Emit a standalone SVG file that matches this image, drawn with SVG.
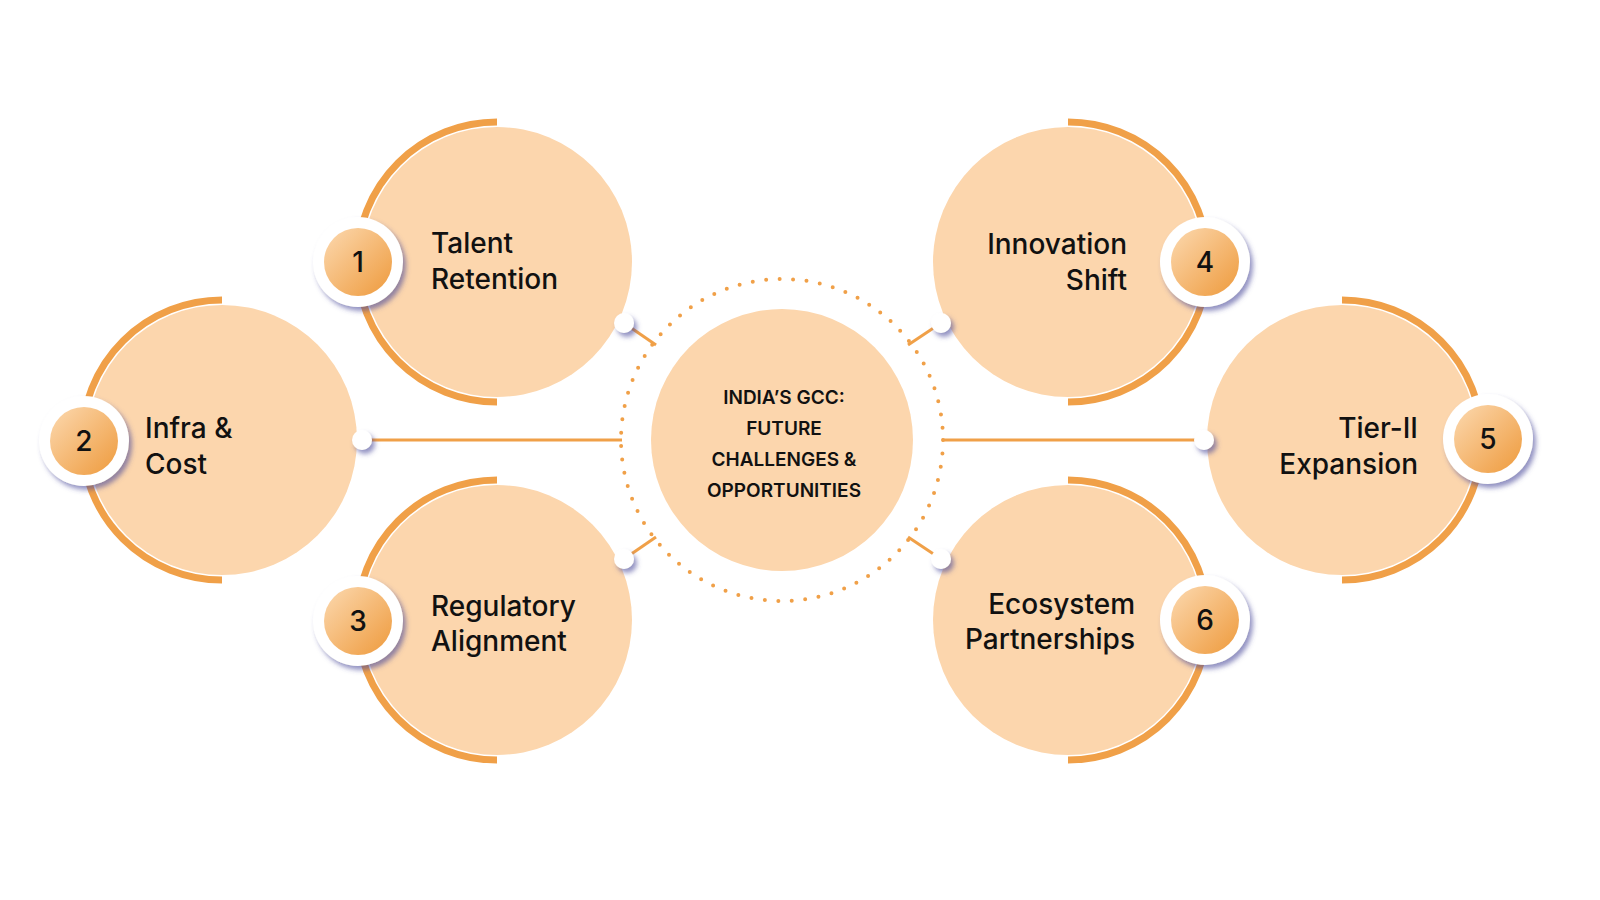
<svg xmlns="http://www.w3.org/2000/svg" width="1600" height="900" viewBox="0 0 1600 900">
<defs>
<linearGradient id="bg" x1="0" y1="0" x2="1" y2="1"><stop offset="0" stop-color="#fcd9b0"/><stop offset="1" stop-color="#ee9a3c"/></linearGradient>
<filter id="sh" x="-50%" y="-50%" width="200%" height="200%"><feDropShadow dx="3" dy="4" stdDeviation="2.5" flood-color="#4a4a9a" flood-opacity="0.6"/></filter>
<style>
.f{fill:#fcd6ad}
.arc{fill:none;stroke:#f0a048;stroke-width:7}
.t{font-family:Inter,"Noto Sans",sans-serif;font-size:28px;font-weight:500;fill:#111}
.n{font-family:Inter,"Noto Sans",sans-serif;font-size:28px;font-weight:500;fill:#111;text-anchor:middle}
.c{font-family:Inter,"Noto Sans",sans-serif;font-size:19px;font-weight:600;fill:#111;text-anchor:middle}
.ring{fill:#fff;filter:url(#sh)}
.in{fill:url(#bg)}
.ln{stroke:#f0a048;stroke-width:3}
</style>
</defs>
<rect width="1600" height="900" fill="#fff"/>
<g id="connectors">
<line class="ln" x1="362" y1="440" x2="622" y2="440"/>
<line class="ln" x1="942" y1="440" x2="1204" y2="440"/>
<line class="ln" x1="624" y1="323" x2="656" y2="345"/>
<line class="ln" x1="624" y1="559" x2="656" y2="537"/>
<line class="ln" x1="941" y1="323" x2="908" y2="345"/>
<line class="ln" x1="941" y1="559" x2="908" y2="537"/>
</g>
<g id="center">
<circle cx="782" cy="440" r="161" fill="none" stroke="#f0a048" stroke-width="4" stroke-linecap="round" stroke-dasharray="0 13.5"/>
<circle class="f" cx="782" cy="440" r="131"/>
<text class="c" x="784" y="404">INDIA’S GCC:</text>
<text class="c" x="784" y="435">FUTURE</text>
<text class="c" x="784" y="466">CHALLENGES &amp;</text>
<text class="c" x="784" y="497">OPPORTUNITIES</text>
</g>
<g id="node1">
<path class="arc" d="M497 122 A140 140 0 0 0 497 402"/>
<circle class="f" cx="497" cy="262" r="135"/>
<circle class="ring" cx="358" cy="262" r="45"/><circle class="in" cx="358" cy="262" r="34"/>
<text class="n" x="358" y="272">1</text>
<text class="t" x="431" y="253">Talent</text><text class="t" x="431" y="289">Retention</text>
</g>
<g id="node2">
<path class="arc" d="M222 300 A140 140 0 0 0 222 580"/>
<circle class="f" cx="222" cy="440" r="135"/>
<circle class="ring" cx="84" cy="441" r="45"/><circle class="in" cx="84" cy="441" r="34"/>
<text class="n" x="84" y="451">2</text>
<text class="t" x="145" y="438">Infra &amp;</text><text class="t" x="145" y="474">Cost</text>
</g>
<g id="node3">
<path class="arc" d="M497 480 A140 140 0 0 0 497 760"/>
<circle class="f" cx="497" cy="620" r="135"/>
<circle class="ring" cx="358" cy="621" r="45"/><circle class="in" cx="358" cy="621" r="34"/>
<text class="n" x="358" y="631">3</text>
<text class="t" x="431" y="616">Regulatory</text><text class="t" x="431" y="651">Alignment</text>
</g>
<g id="node4">
<path class="arc" d="M1068 122 A140 140 0 0 1 1068 402"/>
<circle class="f" cx="1068" cy="262" r="135"/>
<circle class="ring" cx="1205" cy="262" r="45"/><circle class="in" cx="1205" cy="262" r="34"/>
<text class="n" x="1205" y="272">4</text>
<text class="t" x="1127" y="254" text-anchor="end">Innovation</text><text class="t" x="1127" y="290" text-anchor="end">Shift</text>
</g>
<g id="node5">
<path class="arc" d="M1342 300 A140 140 0 0 1 1342 580"/>
<circle class="f" cx="1342" cy="440" r="135"/>
<circle class="ring" cx="1488" cy="439" r="45"/><circle class="in" cx="1488" cy="439" r="34"/>
<text class="n" x="1488" y="449">5</text>
<text class="t" x="1418" y="438" text-anchor="end">Tier-II</text><text class="t" x="1418" y="474" text-anchor="end">Expansion</text>
</g>
<g id="node6">
<path class="arc" d="M1068 480 A140 140 0 0 1 1068 760"/>
<circle class="f" cx="1068" cy="620" r="135"/>
<circle class="ring" cx="1205" cy="620" r="45"/><circle class="in" cx="1205" cy="620" r="34"/>
<text class="n" x="1205" y="630">6</text>
<text class="t" x="1135" y="614" text-anchor="end">Ecosystem</text><text class="t" x="1135" y="649" text-anchor="end">Partnerships</text>
</g>
<g id="dots">
<circle class="ring" cx="624" cy="323" r="10"/><circle class="ring" cx="362" cy="440" r="10"/><circle class="ring" cx="624" cy="559" r="10"/>
<circle class="ring" cx="941" cy="323" r="10"/><circle class="ring" cx="1204" cy="440" r="10"/><circle class="ring" cx="941" cy="559" r="10"/>
</g>
</svg>
